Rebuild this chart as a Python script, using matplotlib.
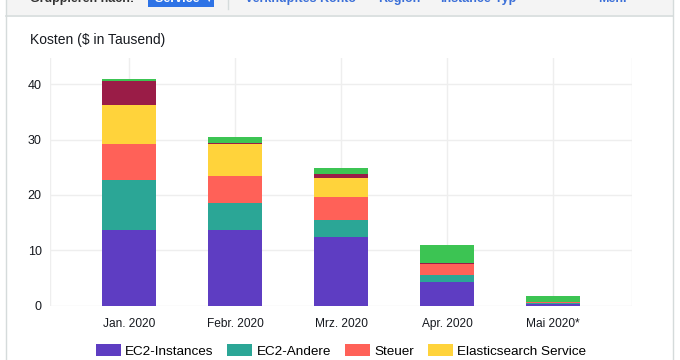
import matplotlib.pyplot as plt
from matplotlib.patches import Rectangle, Patch
from matplotlib.lines import Line2D

plt.rcParams['font.family'] = ['Liberation Sans', 'DejaVu Sans']

# Data (thousand $)
months = ["Jan. 2020", "Febr. 2020", "Mrz. 2020", "Apr. 2020", "Mai 2020*"]
ec2_instances = [13.65, 13.6, 12.4, 4.3, 0.33]
ec2_andere = [9.1, 4.9, 3.1, 1.2, 0.05]
steuer = [6.5, 4.85, 4.05, 1.95, 0.25]
elasticsearch = [7.0, 5.85, 3.55, 0.0, 0.0]
sonstige_1 = [4.35, 0.2, 0.7, 0.15, 0.07]
sonstige_2 = [0.35, 1.1, 1.1, 3.4, 1.1]

series = [
    ("EC2-Instances", ec2_instances, "#5e3dc2"),
    ("EC2-Andere", ec2_andere, "#2ba696"),
    ("Steuer", steuer, "#ff6158"),
    ("Elasticsearch Service", elasticsearch, "#ffd33b"),
    ("Sonstige 1", sonstige_1, "#9a1c47"),
    ("Sonstige 2", sonstige_2, "#3cc453"),
]

fig = plt.figure(figsize=(6.8, 3.6), dpi=100)
W, H = 680, 360

def fx(px):
    return px / W

def fy(py):
    return 1 - py / H

# page chrome: toolbar strip and panel borders
fig.add_artist(Rectangle((fx(6), fy(15)), fx(667), 15 / H, transform=fig.transFigure,
                         facecolor="#f4f4f4", edgecolor="none", zorder=0))
fig.add_artist(Line2D([fx(6), fx(673)], [fy(15.5), fy(15.5)], transform=fig.transFigure,
                      color="#d5dbdb", lw=1.2))
fig.add_artist(Line2D([fx(6), fx(6)], [fy(0), fy(360)], transform=fig.transFigure,
                      color="#d5dbdb", lw=1))
fig.add_artist(Line2D([fx(673), fx(673)], [fy(0), fy(360)], transform=fig.transFigure,
                      color="#d5dbdb", lw=1))
fig.add_artist(Rectangle((fx(148), fy(7)), fx(66), 12 / H, transform=fig.transFigure,
                         facecolor="#2e73e6", edgecolor="none", zorder=1))
fig.add_artist(Line2D([fx(228), fx(228)], [fy(0), fy(9)], transform=fig.transFigure,
                      color="#d5dbdb", lw=1))
fig.text(fx(30), fy(2), "Gruppieren nach:", fontsize=9, fontweight="bold", color="#333333")
fig.text(fx(155), fy(2), "Service \u25bc", fontsize=9, fontweight="bold", color="white", zorder=2)
for label, x in [("Verknüpftes Konto", 245), ("Region", 378), ("Instance-Typ", 440), ("Mehr", 598)]:
    fig.text(fx(x), fy(2), label, fontsize=9, fontweight="bold", color="#3b6fd8")

fig.text(fx(30), fy(40), "Kosten ($ in Tausend)", fontsize=10, color="#16191f", va="center")

ax = fig.add_axes([fx(50), fy(305.5), fx(582), (305.5 - 58) / H])
x = list(range(len(months)))
bottom = [0.0] * len(months)
for name, vals, color in series:
    ax.bar(x, vals, width=0.51, bottom=bottom, color=color, label=name, zorder=2)
    bottom = [b + v for b, v in zip(bottom, vals)]

ax.set_xlim(-0.745, 4.745)
ax.set_ylim(0, 44.75)
ax.set_yticks([0, 10, 20, 30, 40])
ax.set_xticks(x)
ax.set_xticklabels(months)
ax.tick_params(axis="both", length=0, labelsize=9, colors="#16191f")
ax.tick_params(axis="x", pad=9, labelsize=8.6)
ax.tick_params(axis="y", pad=6)
for v in [-0.745, 4.745]:
    ax.axvline(v, color="#eeeeee", lw=1, zorder=0)
ax.grid(True, color="#eeeeee", lw=1, zorder=0)
for s in ax.spines.values():
    s.set_visible(False)

handles = [Patch(facecolor=c, label=n) for n, _, c in series[:4]]
fig.legend(handles=handles, loc="center", bbox_to_anchor=(fx(341), fy(351)), ncol=4,
           frameon=False, fontsize=9.7, handlelength=1.85, handleheight=1.0,
           handletextpad=0.35, columnspacing=1.0, borderaxespad=0)

fig.savefig("out.png", dpi=100)
